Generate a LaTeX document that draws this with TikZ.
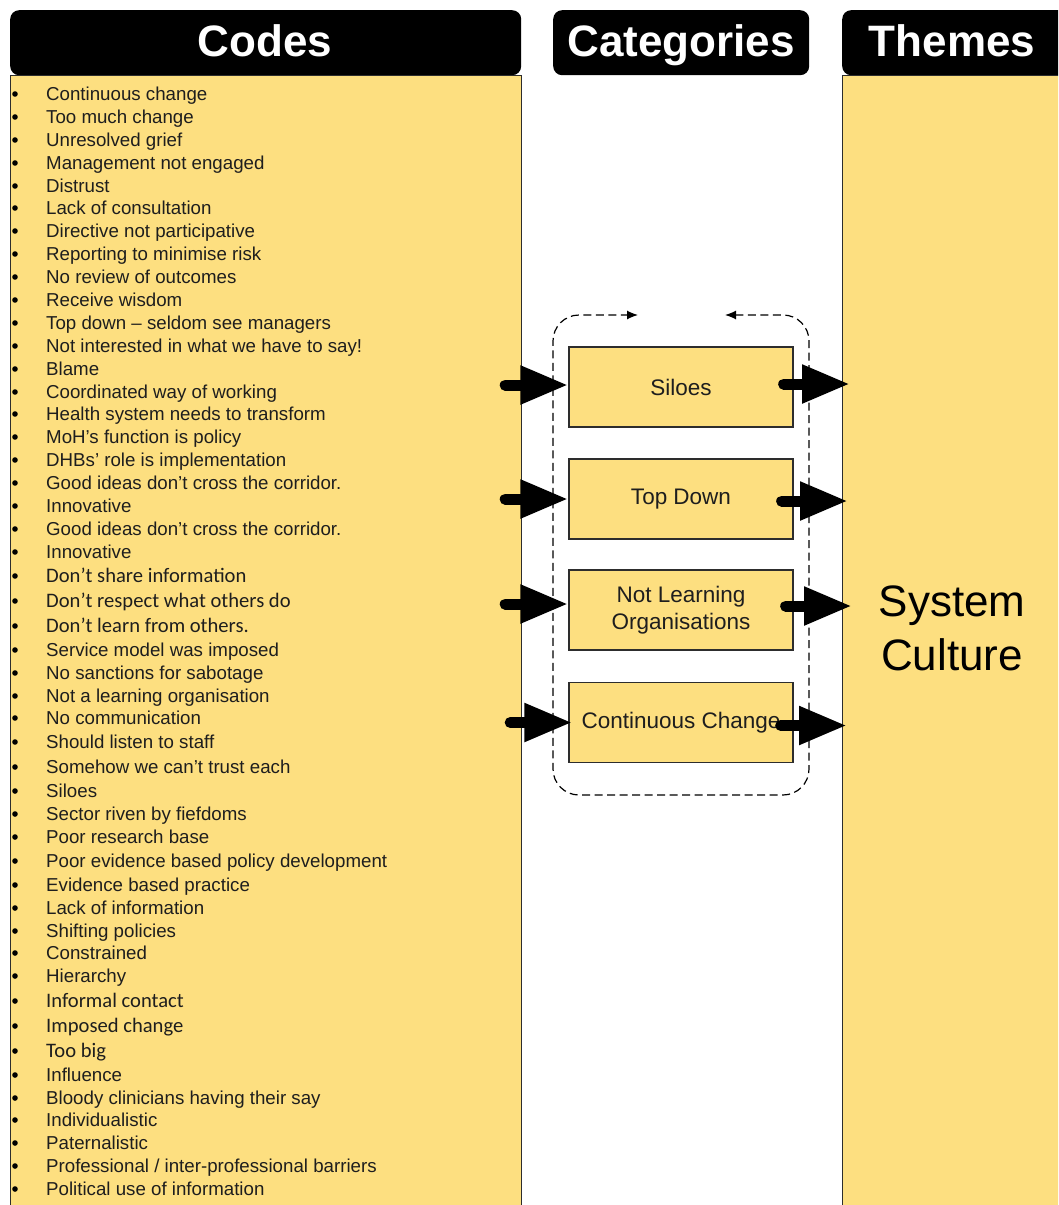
\documentclass[tikz,border=0pt]{standalone}
\usepackage{fontspec}
\setmainfont{Liberation Sans}
\newfontfamily\calib{Carlito}
\usetikzlibrary{arrows.meta,calc}
\definecolor{panelyellow}{RGB}{253,223,128}
\definecolor{edgegray}{RGB}{45,45,45}
\definecolor{inkgray}{RGB}{30,30,30}

% one bulleted code line: #1 = vertical centre, #2 = node name, #3 = font, #4 = text
\newcommand{\codeline}[4]{%
  \fill[black] (15,{#1}) circle[radius=2.8];
  \node[code, font=#3] (#2) at (46,{#1+6.5}) {#4};}
\newcommand{\arialsz}{\fontsize{18.7}{22}\selectfont}
\newcommand{\calibsz}{\calib\fontsize{20.6}{24}\selectfont}

\begin{document}
\begin{tikzpicture}[x=1pt,y=-1pt,
  panel/.style={draw=edgegray, line width=1.2pt, fill=panelyellow, anchor=north west, inner sep=0},
  header/.style={fill=black, rounded corners=9pt, anchor=north west, inner sep=0, minimum height=65pt},
  headtext/.style={text=white, inner sep=0, anchor=base, font=\fontsize{44}{48}\selectfont\bfseries},
  catbox/.style={draw=edgegray, line width=1.3pt, fill=panelyellow, minimum width=224pt,
    minimum height=80pt, inner sep=0, align=center, text=inkgray, font=\fontsize{22.5}{27}\selectfont},
  code/.style={anchor=base west, inner sep=0, text=inkgray},
  bigarrow/.style={line width=11pt, line cap=round, -{Triangle[length=48pt,width=36pt]}},
  loopline/.style={line width=1.2pt, dash pattern=on 8pt off 4.5pt, rounded corners=26pt,
    {Latex[length=11pt,width=9pt]}-{Latex[length=11pt,width=9pt]}}
]
\useasboundingbox (0,0) rectangle (1058,1205);
\clip (0,0) rectangle (1058,1205);

% column headers
\node[header, minimum width=511pt] (codeshead) at (10,10) {};
\node[headtext] (codestitle) at (265,56) {Codes};
\node[header, minimum width=256pt] (cathead) at (553,10) {};
\node[headtext] (cattitle) at (681,56) {Categories};
\node[header, minimum width=240pt] (themeshead) at (842,10) {};
\node[headtext] (themestitle) at (952,56) {Themes};

% column panels
\node[panel, minimum width=511pt, minimum height=1150pt] (codespanel) at (10,75) {};
\node[panel, minimum width=240pt, minimum height=1150pt] (themespanel) at (842,75) {};
\node[font=\fontsize{44}{54}\selectfont, align=center, text=black] (theme) at (952,628) {System\\Culture};

% codes
\codeline{94}{c1}{\arialsz}{Continuous change}
\codeline{117}{c2}{\arialsz}{Too much change}
\codeline{140}{c3}{\arialsz}{Unresolved grief}
\codeline{163}{c4}{\arialsz}{Management not engaged}
\codeline{186}{c5}{\arialsz}{Distrust}
\codeline{208}{c6}{\arialsz}{Lack of consultation}
\codeline{231}{c7}{\arialsz}{Directive not participative}
\codeline{254}{c8}{\arialsz}{Reporting to minimise risk}
\codeline{277}{c9}{\arialsz}{No review of outcomes}
\codeline{300}{c10}{\arialsz}{Receive wisdom}
\codeline{323}{c11}{\arialsz}{Top down – seldom see managers}
\codeline{346}{c12}{\arialsz}{Not interested in what we have to say!}
\codeline{369}{c13}{\arialsz}{Blame}
\codeline{392}{c14}{\arialsz}{Coordinated way of working}
\codeline{414}{c15}{\arialsz}{Health system needs to transform}
\codeline{437}{c16}{\arialsz}{MoH’s function is policy}
\codeline{460}{c17}{\arialsz}{DHBs’ role is implementation}
\codeline{483}{c18}{\arialsz}{Good ideas don’t cross the corridor.}
\codeline{506}{c19}{\arialsz}{Innovative}
\codeline{529}{c20}{\arialsz}{Good ideas don’t cross the corridor.}
\codeline{552}{c21}{\arialsz}{Innovative}
\codeline{576}{c22}{\calibsz}{Don’t share information}
\codeline{601}{c23}{\calibsz}{Don’t respect what others do}
\codeline{626}{c24}{\calibsz}{Don’t learn from others.}
\codeline{650}{c25}{\arialsz}{Service model was imposed}
\codeline{673}{c26}{\arialsz}{No sanctions for sabotage}
\codeline{696}{c27}{\arialsz}{Not a learning organisation}
\codeline{718}{c28}{\arialsz}{No communication}
\codeline{742}{c29}{\arialsz}{Should listen to staff}
\codeline{767}{c30}{\arialsz}{Somehow we can’t trust each}
\codeline{791}{c31}{\arialsz}{Siloes}
\codeline{814}{c32}{\arialsz}{Sector riven by fiefdoms}
\codeline{837}{c33}{\arialsz}{Poor research base}
\codeline{861}{c34}{\arialsz}{Poor evidence based policy development}
\codeline{885}{c35}{\arialsz}{Evidence based practice}
\codeline{908}{c36}{\arialsz}{Lack of information}
\codeline{931}{c37}{\arialsz}{Shifting policies}
\codeline{953}{c38}{\arialsz}{Constrained}
\codeline{976}{c39}{\arialsz}{Hierarchy}
\codeline{1001}{c40}{\calibsz}{Informal contact}
\codeline{1026}{c41}{\calibsz}{Imposed change}
\codeline{1051}{c42}{\calibsz}{Too big}
\codeline{1075}{c43}{\arialsz}{Influence}
\codeline{1098}{c44}{\arialsz}{Bloody clinicians having their say}
\codeline{1120}{c45}{\arialsz}{Individualistic}
\codeline{1143}{c46}{\arialsz}{Paternalistic}
\codeline{1166}{c47}{\arialsz}{Professional / inter-professional barriers}
\codeline{1189}{c48}{\arialsz}{Political use of information}

% categories
\node[catbox] (siloes) at (681,387) {Siloes};
\node[catbox] (topdown) at (681,499) {Top Down};
\node[catbox] (notlearning) at (681,610) {Not Learning\\Organisations};
\node[catbox] (contchange) at (681,722.5) {Continuous Change};

% dashed feedback loop around the categories
\coordinate (loopstart) at (725,315);
\coordinate (loopend) at (638,315);
\draw[loopline] (loopstart) -- (809,315) -- (809,795) -- (553,795) -- (553,315) -- (loopend);

% codes -> categories
\draw[bigarrow] ($(siloes.west -| codespanel.east)+(-17,-2)$) -- ($(siloes.west)+(0,-2)$);
\draw[bigarrow] ($(topdown.west -| codespanel.east)+(-17,0)$) -- (topdown.west);
\draw[bigarrow] ($(notlearning.west -| codespanel.east)+(-17,-6)$) -- ($(notlearning.west)+(0,-6)$);
\draw[bigarrow] ($(contchange.west -| codespanel.east)+(-12,0)$) -- ($(contchange.west)+(4,0)$);

% categories -> theme
\draw[bigarrow] ($(siloes.east)+(-10,-3)$) -- ($(siloes.east -| themespanel.west)+(8,-3)$);
\draw[bigarrow] ($(topdown.east)+(-12,2)$) -- ($(topdown.east -| themespanel.west)+(6,2)$);
\draw[bigarrow] ($(notlearning.east)+(-8,-4)$) -- ($(notlearning.east -| themespanel.west)+(10,-4)$);
\draw[bigarrow] ($(contchange.east)+(-13,3)$) -- ($(contchange.east -| themespanel.west)+(5,3)$);
\end{tikzpicture}
\end{document}
